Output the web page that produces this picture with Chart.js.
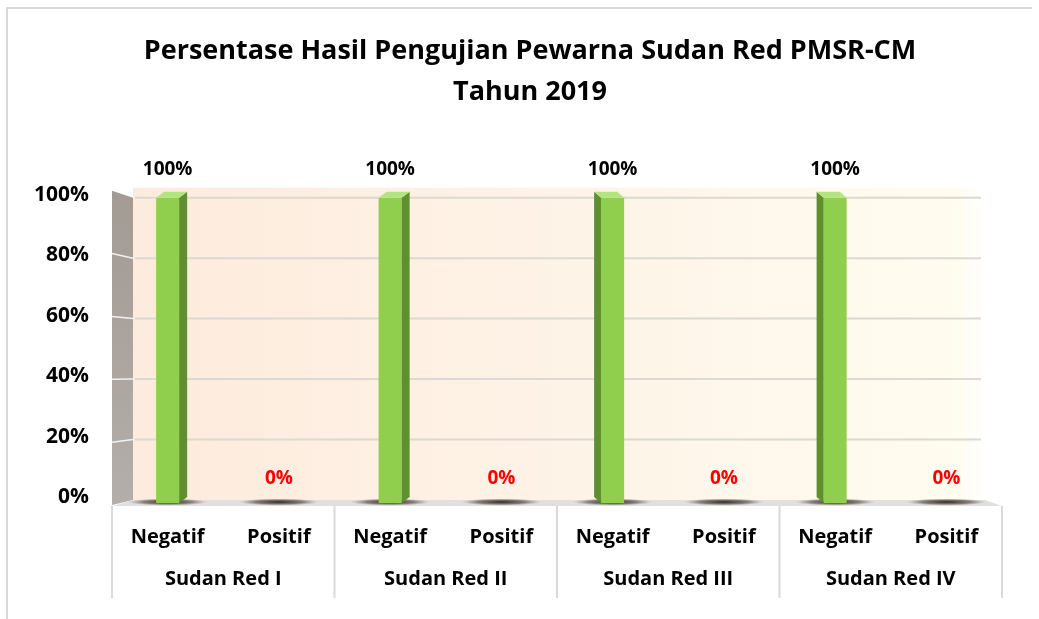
<!DOCTYPE html>
<html>
<head>
<meta charset="utf-8">
<script src="https://cdn.jsdelivr.net/npm/chart.js@4.4.0/dist/chart.umd.min.js"></script>
<style>
  html, body { margin: 0; padding: 0; background: #fff; }
  #wrap { width: 1039px; height: 619px; position: relative; }
</style>
</head>
<body>
<div id="wrap"><canvas id="chart"></canvas></div>
<script>
// data
const groups = ['Sudan Red I', 'Sudan Red II', 'Sudan Red III', 'Sudan Red IV'];
const results = ['Negatif', 'Positif'];
const negatif = [100, 100, 100, 100];
const positif = [0, 0, 0, 0];
const yTicks = [0, 20, 40, 60, 80, 100];

const FONT = '"Open Sans", Lato, sans-serif';

// flatten groups x results into one category row
const subLabels = [];
const values = [];
groups.forEach((g, i) => {
    subLabels.push(results[0], results[1]);
    values.push(negatif[i], positif[i]);
});

// back wall, side wall, floor and gridlines (3D look of the original)
const backdrop = {
    id: 'backdrop',
    beforeDraw(chart) {
        const { ctx, chartArea: a, scales: { y } } = chart;
        const L = a.left, R = a.right, T = y.getPixelForValue(100), B = y.getPixelForValue(0);
        const wl = L + 21, wr = R - 17;
        ctx.save();
        // outer frame (top + left)
        ctx.strokeStyle = '#d9d9d9';
        ctx.lineWidth = 2;
        ctx.beginPath();
        ctx.moveTo(7, 619);
        ctx.lineTo(7, 8);
        ctx.lineTo(1032, 8);
        ctx.stroke();

        // back wall
        const g = ctx.createLinearGradient(wl, 0, wr, 0);
        g.addColorStop(0, '#fdebdd');
        g.addColorStop(0.5, '#fef3e7');
        g.addColorStop(0.97, '#fffcf0');
        g.addColorStop(1, '#ffffff');
        ctx.fillStyle = g;
        ctx.fillRect(wl, T - 10, wr - wl, B - T + 10);

        // gridlines on the back wall
        ctx.strokeStyle = '#dcd8d2';
        ctx.lineWidth = 2;
        yTicks.forEach(v => {
            if (v === 0) return;
            const py = y.getPixelForValue(v);
            ctx.beginPath();
            ctx.moveTo(wl + 2, py);
            ctx.lineTo(wr - 4, py);
            ctx.stroke();
        });

        // left side wall
        const off = v => -7 + 12 * (1 - v / 100);
        const sg = ctx.createLinearGradient(0, T, 0, B);
        sg.addColorStop(0, '#a39b94');
        sg.addColorStop(1, '#b3aea9');
        ctx.fillStyle = sg;
        ctx.beginPath();
        ctx.moveTo(L, T + off(100));
        ctx.lineTo(wl, T);
        ctx.lineTo(wl, B);
        ctx.lineTo(L, B + off(0));
        ctx.closePath();
        ctx.fill();
        ctx.strokeStyle = 'rgba(255,255,255,0.85)';
        ctx.lineWidth = 1.5;
        yTicks.forEach(v => {
            if (v === 0 || v === 100) return;
            const py = y.getPixelForValue(v);
            ctx.beginPath();
            ctx.moveTo(L, py + off(v));
            ctx.lineTo(wl, py);
            ctx.stroke();
        });

        // floor
        ctx.fillStyle = '#e2e0de';
        ctx.beginPath();
        ctx.moveTo(wl, B);
        ctx.lineTo(wr, B);
        ctx.lineTo(R, B + 6);
        ctx.lineTo(L, B + 6);
        ctx.closePath();
        ctx.fill();
        ctx.restore();
    }
};

// floor shadows and side/top faces of the bars
const bar3d = {
    id: 'bar3d',
    beforeDatasetsDraw(chart) {
        const { ctx, scales: { y } } = chart;
        const B = y.getPixelForValue(0);
        ctx.save();
        chart.getDatasetMeta(0).data.forEach(bar => {
            const rg = ctx.createRadialGradient(bar.x, B + 2, 0, bar.x, B + 2, 40);
            rg.addColorStop(0, 'rgba(40,30,25,0.95)');
            rg.addColorStop(0.6, 'rgba(70,60,55,0.6)');
            rg.addColorStop(1, 'rgba(120,110,100,0)');
            ctx.fillStyle = rg;
            ctx.save();
            ctx.translate(bar.x, B + 2);
            ctx.scale(1, 0.09);
            ctx.translate(-bar.x, -(B + 2));
            ctx.beginPath();
            ctx.arc(bar.x, B + 2, 40, 0, Math.PI * 2);
            ctx.fill();
            ctx.restore();
        });
        ctx.restore();
    },
    afterDatasetsDraw(chart) {
        const { ctx, chartArea: a } = chart;
        const mid = (a.left + a.right) / 2;
        ctx.save();
        chart.getDatasetMeta(0).data.forEach(bar => {
            if (bar.base - bar.y < 1) return;
            const x1 = bar.x - bar.width / 2, x2 = bar.x + bar.width / 2;
            const top = bar.y, bot = bar.base + 3;
            const d = bar.x < mid ? 8 : -7;
            const ex = d > 0 ? x2 : x1;
            // side face
            ctx.fillStyle = '#5f8f2f';
            ctx.beginPath();
            ctx.moveTo(ex, top);
            ctx.lineTo(ex + d, top - 6);
            ctx.lineTo(ex + d, bot - 6);
            ctx.lineTo(ex, bot);
            ctx.closePath();
            ctx.fill();
            // top face
            ctx.fillStyle = '#b3e57f';
            ctx.beginPath();
            ctx.moveTo(x1, top);
            ctx.lineTo(x1 + d, top - 6);
            ctx.lineTo(x2 + d, top - 6);
            ctx.lineTo(x2, top);
            ctx.closePath();
            ctx.fill();
            // bring the front face down onto the floor
            ctx.fillStyle = '#8fcf4d';
            ctx.fillRect(x1, bar.base - 1, bar.width, 4);
        });
        ctx.restore();
    }
};

// value labels: 100% in black, 0% in red
const valueLabels = {
    id: 'valueLabels',
    afterDatasetsDraw(chart) {
        const { ctx } = chart;
        ctx.save();
        ctx.font = 'bold 19px ' + FONT;
        ctx.textAlign = 'center';
        ctx.textBaseline = 'middle';
        chart.getDatasetMeta(0).data.forEach((bar, i) => {
            const v = values[i];
            ctx.fillStyle = v === 0 ? '#ff0000' : '#000000';
            ctx.fillText(v + '%', bar.x, bar.y - (v === 0 ? 21 : 28));
        });
        ctx.restore();
    }
};

// vertical separators between the groups on the category axis
const separators = {
    id: 'separators',
    afterDraw(chart) {
        const { ctx, scales: { x, y } } = chart;
        const B = y.getPixelForValue(0) + 6;
        const step = x.getPixelForValue(1) - x.getPixelForValue(0);
        ctx.save();
        ctx.strokeStyle = '#d9d9d9';
        ctx.lineWidth = 2;
        for (let i = 0; i <= groups.length; i++) {
            const px = x.getPixelForValue(i * 2) - step / 2;
            ctx.beginPath();
            ctx.moveTo(px, B);
            ctx.lineTo(px, 598);
            ctx.stroke();
        }
        ctx.restore();
    }
};

new Chart(document.getElementById('chart'), {
    type: 'bar',
    data: {
        labels: subLabels,
        datasets: [{
            data: values,
            backgroundColor: '#8fcf4d',
            borderWidth: 0,
            categoryPercentage: 1,
            barPercentage: 0.207
        }]
    },
    options: {
        responsive: true,
        maintainAspectRatio: false,
        animation: false,
        layout: { padding: { left: 21, right: 0, top: 0, bottom: 19 } },
        plugins: {
            legend: { display: false },
            tooltip: { enabled: false },
            title: {
                display: true,
                text: ['Persentase Hasil Pengujian Pewarna Sudan Red PMSR-CM', 'Tahun 2019'],
                color: '#000',
                font: { family: FONT, size: 27, weight: 'bold', lineHeight: 1.55 },
                padding: { top: 30, bottom: 84 }
            }
        },
        scales: {
            x: {
                type: 'category',
                position: 'bottom',
                weight: 0,
                grid: { display: false, drawTicks: false },
                border: { display: false },
                ticks: { color: '#000', font: { family: FONT, size: 20, weight: 'bold' }, padding: 25, maxRotation: 0, autoSkip: false },
                afterFit(s) { s.height = 60; }
            },
            x2: {
                type: 'category',
                position: 'bottom',
                weight: 1,
                labels: groups,
                offset: true,
                grid: { display: false, drawTicks: false },
                border: { display: false },
                ticks: { color: '#000', font: { family: FONT, size: 20, weight: 'bold' }, padding: 7, maxRotation: 0, autoSkip: false },
                afterFit(s) { s.height = 40; }
            },
            y: {
                min: 0,
                max: 100,
                grid: { display: false, drawTicks: false },
                border: { display: false },
                afterBuildTicks(s) { s.ticks = yTicks.map(v => ({ value: v })); },
                ticks: {
                    color: '#000',
                    font: { family: FONT, size: 21, weight: 'bold' },
                    padding: 23,
                    labelOffset: -3,
                    callback: v => v + '%'
                },
                afterFit(s) { s.width = 91; }
            },
            // empty right-hand gutter so the title centres like the original
            yGutter: {
                position: 'right',
                min: 0,
                max: 100,
                grid: { display: false, drawTicks: false },
                border: { display: false },
                ticks: { display: false },
                afterFit(s) { s.width = 37; }
            }
        }
    },
    plugins: [backdrop, bar3d, valueLabels, separators]
});
</script>
</body>
</html>
